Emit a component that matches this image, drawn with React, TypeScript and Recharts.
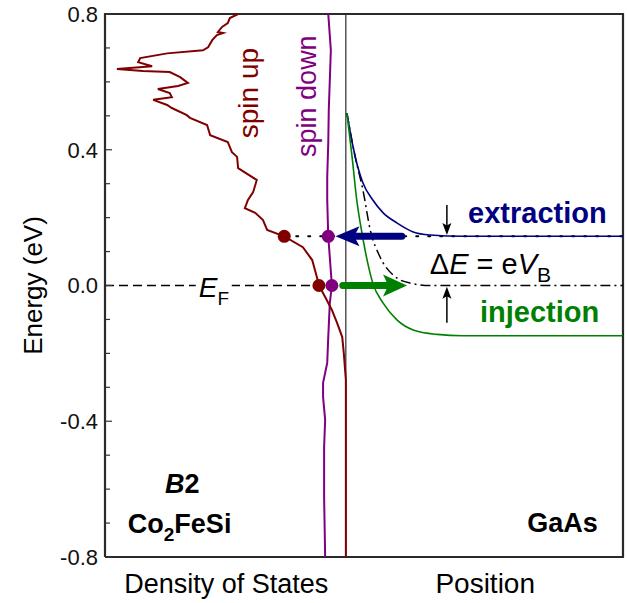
import React from "react";
import { ComposedChart, Line, Scatter, XAxis, YAxis, ReferenceLine } from "recharts";

const FONT = "'Liberation Sans', Arial, sans-serif";

const SPIN_UP = "#800000";
const SPIN_DOWN = "#800080";
const EXTRACT = "#000080";
const INJECT = "#008000";

// energy axis: labelled every 0.4 eV, minor ticks every 0.1 eV
const energyTicks = [-0.8, -0.7, -0.6, -0.5, -0.4, -0.3, -0.2, -0.1, 0, 0.1, 0.2, 0.3, 0.4, 0.5, 0.6, 0.7, 0.8];

// the metal/semiconductor interface on the horizontal axis
const interfaceX = 46.5;

// box around the plot area, corners in data units
const frame = [[0, -0.8], [0, 0.8], [100, 0.8], [100, -0.8], [0, -0.8]];

// spin-resolved DOS of Co2FeSi: [density (arb.), energy (eV)]
const spinUpDos = [
  [25.7, 0.8], [24.1, 0.788], [23.7, 0.773], [22.6, 0.762], [21.8, 0.747], [22.8, 0.744],
  [21.6, 0.738], [20.7, 0.723], [19.9, 0.702], [18.9, 0.693], [12.0, 0.684], [6.8, 0.67],
  [6.4, 0.658], [9.1, 0.646], [2.3, 0.638], [7.3, 0.632], [12.5, 0.629], [14.5, 0.614],
  [16.0, 0.597], [14.1, 0.588], [10.2, 0.579], [12.5, 0.567], [12.9, 0.555], [9.3, 0.547],
  [12.0, 0.532], [12.9, 0.523], [15.8, 0.502], [16.4, 0.494], [19.7, 0.473], [20.3, 0.443],
  [23.7, 0.423], [24.5, 0.393], [25.5, 0.379], [25.7, 0.346], [29.3, 0.311], [28.6, 0.275],
  [27.6, 0.252], [27.0, 0.228], [29.0, 0.214], [30.5, 0.193], [31.3, 0.164], [34.6, 0.145],
  [38.2, 0.113], [40.0, 0.075], [40.9, 0.025], [41.3, 0], [42.5, -0.034], [43.8, -0.072],
  [44.8, -0.11], [45.8, -0.152], [46.1, -0.199], [46.5, -0.278], [46.5, -0.8],
];

const spinDownDos = [
  [43.1, 0.8], [43.6, 0.694], [43.2, 0.517], [43.1, 0.42], [42.9, 0.32], [42.9, 0.252],
  [43.1, 0.145], [43.8, 0], [43.4, -0.052], [43.1, -0.152], [42.9, -0.228], [42.1, -0.287],
  [42.1, -0.329], [42.5, -0.396], [42.3, -0.476], [42.3, -0.623], [42.5, -0.8],
];

// states marked at the extraction level and at E_F
const spinUpMarks = [[34.6, 0.145], [41.3, 0]];
const spinDownMarks = [[43.1, 0.145], [43.8, 0]];

// GaAs conduction band edge vs. position: [position (arb.), energy (eV)]
const extractionBand = [
  [46.7, 0.508], [47.9, 0.408], [48.8, 0.349], [49.8, 0.302], [51.7, 0.252], [53.7, 0.214],
  [56.4, 0.184], [59.5, 0.158], [62.7, 0.149], [69.1, 0.145], [100, 0.145],
];
const injectionBand = [
  [46.7, 0.508], [47.7, 0.379], [48.6, 0.252], [49.6, 0.155], [50.6, 0.075], [51.7, 0.007],
  [53.7, -0.052], [56.4, -0.102], [59.5, -0.131], [64.1, -0.144], [69.1, -0.148], [100, -0.148],
];
const zeroBiasBand = [
  [46.7, 0.508], [48.3, 0.379], [49.8, 0.281], [51.2, 0.164], [53.1, 0.084], [55.6, 0.031],
  [58.9, 0.007], [62.7, 0], [100, 0],
];

// reference levels
const fermiLevel = [[0, 0], [41.3, 0]];
const extractionLevel = [[34.6, 0.145], [100, 0.145]];

// arrows: shaft [from, to] and the tip
const extractionShaft = [[57.3, 0.145], [48.4, 0.145]];
const extractionTip = [[44.5, 0.145]];
const injectionShaft = [[45.9, 0], [54.6, 0]];
const injectionTip = [[58.3, 0]];
const barrierDownShaft = [[66.0, 0.237], [66.0, 0.165]];
const barrierDownTip = [[66.0, 0.149]];
const barrierUpShaft = [[66.0, -0.11], [66.0, -0.02]];
const barrierUpTip = [[66.0, -0.004]];

const pts = (rows: number[][]) => rows.map(([u, e]) => ({ u, e }));

function EnergyTick(props: any) {
  const { x, y, payload } = props;
  const v = payload.value as number;
  const major = Math.abs(Math.round(v * 10)) % 4 === 0;
  return (
    <g>
      <line x1={x} x2={x + (major ? 7 : 5)} y1={y} y2={y} stroke="#333" strokeWidth={1.2} />
      {major && (
        <text x={x - 7} y={y} dy="0.36em" textAnchor="end" fontSize={22} fontFamily={FONT} fill="#111">
          {v.toFixed(1)}
        </text>
      )}
    </g>
  );
}

type Dir = "left" | "right" | "up" | "down";
const arrowHead = (dir: Dir, len: number, half: number, color: string) => (p: any) => {
  const { cx, cy } = p;
  const notch = len * 0.78;
  const local = [
    [0, 0],
    [len, -half],
    [notch, 0],
    [len, half],
  ];
  const pointsStr = local
    .map(([a, b]) => {
      if (dir === "left") return `${cx + a},${cy + b}`;
      if (dir === "right") return `${cx - a},${cy + b}`;
      if (dir === "up") return `${cx + b},${cy + a}`;
      return `${cx + b},${cy - a}`;
    })
    .join(" ");
  return <polygon points={pointsStr} fill={color} />;
};

const dot = (color: string) => (p: any) => <circle cx={p.cx} cy={p.cy} r={6.5} fill={color} />;

const note = (render: (x: number, y: number) => React.ReactNode) => (p: any) => <g>{render(p.cx, p.cy)}</g>;

const txt = { fontFamily: FONT } as const;

export default function App() {
  return (
    <div style={{ width: 627, height: 603, background: "#fff" }}>
      <style>{"body{margin:0}"}</style>
      <ComposedChart width={627} height={603} margin={{ top: 14, right: 4, bottom: 0, left: 0 }}>
        <XAxis
          type="number"
          dataKey="u"
          domain={[0, 100]}
          tick={false}
          tickLine={false}
          height={46}
          axisLine={false}
        />
        <YAxis
          type="number"
          dataKey="e"
          domain={[-0.8, 0.8]}
          ticks={energyTicks}
          interval={0}
          width={105}
          tickSize={0}
          tickMargin={0}
          tickLine={false}
          tick={EnergyTick}
          axisLine={false}
        />
        <ReferenceLine x={interfaceX} stroke="#000" strokeWidth={1} />
        <Line data={pts(frame)} dataKey="e" stroke="#2a2a2a" strokeWidth={2.2} strokeLinejoin="miter" dot={false} activeDot={false} isAnimationActive={false} />

        <Line data={pts(extractionLevel)} dataKey="e" stroke="#000" strokeWidth={2} strokeDasharray="2 10" strokeLinecap="round" dot={false} activeDot={false} isAnimationActive={false} />
        <Line data={pts(fermiLevel)} dataKey="e" stroke="#000" strokeWidth={1.5} strokeDasharray="9 5" dot={false} activeDot={false} isAnimationActive={false} />
        <Line data={pts(zeroBiasBand)} dataKey="e" type="monotone" stroke="#000" strokeWidth={1.5} strokeDasharray="10 4 2 4" dot={false} activeDot={false} isAnimationActive={false} />

        <Line data={pts(spinDownDos)} dataKey="e" stroke={SPIN_DOWN} strokeWidth={2} dot={false} activeDot={false} isAnimationActive={false} />
        <Line data={pts(spinUpDos)} dataKey="e" stroke={SPIN_UP} strokeWidth={2} dot={false} activeDot={false} isAnimationActive={false} />

        <Line data={pts(extractionBand)} dataKey="e" type="monotone" stroke={EXTRACT} strokeWidth={1.6} dot={false} activeDot={false} isAnimationActive={false} />
        <Line data={pts(injectionBand)} dataKey="e" type="monotone" stroke={INJECT} strokeWidth={1.6} dot={false} activeDot={false} isAnimationActive={false} />

        <Scatter data={pts(spinUpMarks)} shape={dot(SPIN_UP)} isAnimationActive={false} />
        <Scatter data={pts(spinDownMarks)} shape={dot(SPIN_DOWN)} isAnimationActive={false} />

        <Line data={pts(extractionShaft)} dataKey="e" stroke={EXTRACT} strokeWidth={7} strokeLinecap="round" dot={false} activeDot={false} isAnimationActive={false} />
        <Scatter data={pts(extractionTip)} shape={arrowHead("left", 24, 10, EXTRACT)} isAnimationActive={false} />
        <Line data={pts(injectionShaft)} dataKey="e" stroke={INJECT} strokeWidth={7} strokeLinecap="round" dot={false} activeDot={false} isAnimationActive={false} />
        <Scatter data={pts(injectionTip)} shape={arrowHead("right", 24, 11, INJECT)} isAnimationActive={false} />

        <Line data={pts(barrierDownShaft)} dataKey="e" stroke="#000" strokeWidth={1.5} dot={false} activeDot={false} isAnimationActive={false} />
        <Scatter data={pts(barrierDownTip)} shape={arrowHead("down", 12, 4.5, "#000")} isAnimationActive={false} />
        <Line data={pts(barrierUpShaft)} dataKey="e" stroke="#000" strokeWidth={1.5} dot={false} activeDot={false} isAnimationActive={false} />
        <Scatter data={pts(barrierUpTip)} shape={arrowHead("up", 12, 4.5, "#000")} isAnimationActive={false} />

        {/* text annotations */}
        <Scatter
          data={pts([[18.1, -0.034]])}
          isAnimationActive={false}
          shape={note((x, y) => (
            <>
              <rect x={x - 3} y={y - 22} width={36} height={32} fill="#fff" />
              <text x={x} y={y} fontSize={28} fill="#000" {...txt}>
                <tspan fontStyle="italic">E</tspan>
                <tspan fontSize={19} dy={8}>F</tspan>
              </text>
            </>
          ))}
        />
        <Scatter
          data={pts([[29.5, 0.567]])}
          isAnimationActive={false}
          shape={note((x, y) => (
            <text x={x} y={y} transform={`rotate(-90 ${x} ${y})`} textAnchor="middle" fontSize={28} fill={SPIN_UP} {...txt}>
              spin up
            </text>
          ))}
        />
        <Scatter
          data={pts([[40.7, 0.558]])}
          isAnimationActive={false}
          shape={note((x, y) => (
            <text x={x} y={y} transform={`rotate(-90 ${x} ${y})`} textAnchor="middle" fontSize={27} fill={SPIN_DOWN} {...txt}>
              spin down
            </text>
          ))}
        />
        <Scatter
          data={pts([[70.1, 0.184]])}
          isAnimationActive={false}
          shape={note((x, y) => (
            <text x={x} y={y} fontSize={29} fontWeight="bold" fill={EXTRACT} {...txt}>
              extraction
            </text>
          ))}
        />
        <Scatter
          data={pts([[72.4, -0.108]])}
          isAnimationActive={false}
          shape={note((x, y) => (
            <text x={x} y={y} fontSize={29} fontWeight="bold" fill={INJECT} {...txt}>
              injection
            </text>
          ))}
        />
        <Scatter
          data={pts([[62.7, 0.034]])}
          isAnimationActive={false}
          shape={note((x, y) => (
            <text x={x} y={y} fontSize={29} fill="#000" {...txt}>
              <tspan>Δ</tspan>
              <tspan fontStyle="italic">E</tspan>
              <tspan> = e</tspan>
              <tspan fontStyle="italic">V</tspan>
              <tspan fontSize={21} dy={8}>B</tspan>
            </text>
          ))}
        />
        <Scatter
          data={pts([[14.9, -0.611]])}
          isAnimationActive={false}
          shape={note((x, y) => (
            <text x={x} y={y} textAnchor="middle" fontSize={27} fontWeight="bold" fill="#000" {...txt}>
              <tspan fontStyle="italic">B</tspan>2
            </text>
          ))}
        />
        <Scatter
          data={pts([[4.4, -0.729]])}
          isAnimationActive={false}
          shape={note((x, y) => (
            <text x={x} y={y} fontSize={27} fontWeight="bold" fill="#000" {...txt}>
              Co<tspan fontSize={19} dy={8}>2</tspan>
              <tspan dy={-8}>FeSi</tspan>
            </text>
          ))}
        />
        <Scatter
          data={pts([[81.5, -0.726]])}
          isAnimationActive={false}
          shape={note((x, y) => (
            <text x={x} y={y} fontSize={27} fontWeight="bold" fill="#000" {...txt}>
              GaAs
            </text>
          ))}
        />

        {/* axis titles */}
        <Scatter
          data={pts([[23.4, -0.8]])}
          isAnimationActive={false}
          shape={note((x, y) => (
            <text x={x} y={y + 36} textAnchor="middle" fontSize={27} fill="#000" {...txt}>
              Density of States
            </text>
          ))}
        />
        <Scatter
          data={pts([[73.4, -0.8]])}
          isAnimationActive={false}
          shape={note((x, y) => (
            <text x={x} y={y + 36} textAnchor="middle" fontSize={28} fill="#000" {...txt}>
              Position
            </text>
          ))}
        />
        <Scatter
          data={pts([[0, 0]])}
          isAnimationActive={false}
          shape={note((x, y) => (
            <text x={x - 63} y={y} transform={`rotate(-90 ${x - 63} ${y})`} textAnchor="middle" fontSize={26} fill="#000" {...txt}>
              Energy (eV)
            </text>
          ))}
        />
      </ComposedChart>
    </div>
  );
}
